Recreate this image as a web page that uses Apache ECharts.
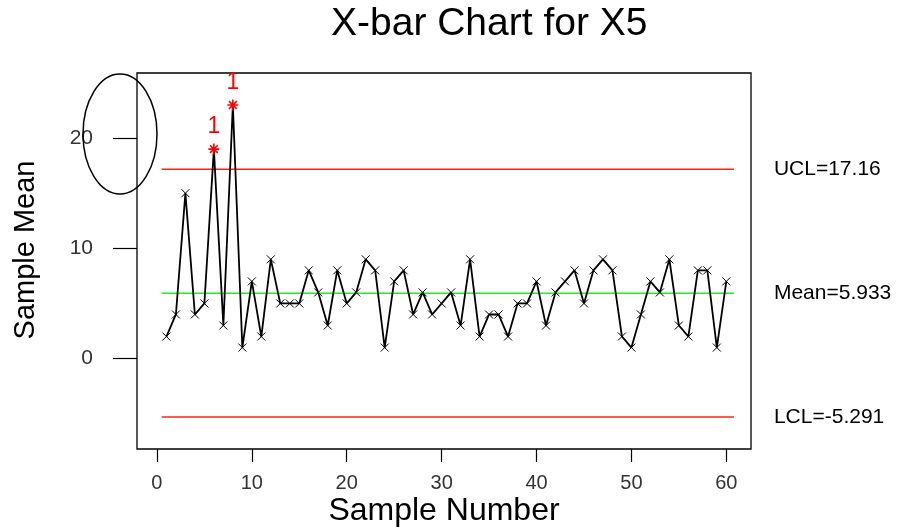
<!DOCTYPE html>
<html>
<head>
<meta charset="utf-8">
<script src="https://cdn.jsdelivr.net/npm/echarts@6/dist/echarts.min.js"></script>
<style>
html,body{margin:0;padding:0;background:#fff;}
#chart{width:915px;height:527px;}
</style>
</head>
<body>
<div id="chart"></div>
<script>
// Data
const sampleNumbers = [1,2,3,4,5,6,7,8,9,10,11,12,13,14,15,16,17,18,19,20,21,22,23,24,25,26,27,28,29,30,31,32,33,34,35,36,37,38,39,40,41,42,43,44,45,46,47,48,49,50,51,52,53,54,55,56,57,58,59,60];
const sampleMeans = [2,4,15,4,5,19,3,23,1,7, 2,9,5,5,5,8,6,3,8,5, 6,9,8,1,7,8,4,6,4,5, 6,3,9,2,4,4,2,5,5,7, 3,6,7,8,5,8,9,8,2,1, 4,7,6,9,3,2,8,8,1,7];
const outOfControl = [6, 8];
const UCL = 17.16;
const CENTER = 5.933;
const LCL = -5.291;
const limitSpan = [0.5, 60.8];
const xTicks = [0,10,20,30,40,50,60];
const yTicks = [0,10,20];
const titleText = 'X-bar Chart for X5';

const chart = echarts.init(document.getElementById('chart'));
const crossPath = 'path://M0,0L10,10M10,0L0,10';
const starPath = 'path://M0,5L10,5M5,0L5,10M1.5,1.5L8.5,8.5M8.5,1.5L1.5,8.5';

const meanData = sampleNumbers.map((n, i) => {
  const flagged = outOfControl.includes(n);
  return {
    value: [n, sampleMeans[i]],
    symbol: flagged ? starPath : crossPath,
    symbolSize: flagged ? 11 : 8,
    itemStyle: flagged ? {color: 'none', borderColor: '#ff0000', borderWidth: 1.6} : {color: 'none', borderColor: '#000', borderWidth: 1},
    label: flagged ? {show: true, position: 'top', formatter: '1', color: '#ff0000', fontSize: 23, fontFamily: 'Liberation Sans', distance: 3} : {show: false}
  };
});

function limitLine(v, color, text) {
  return {
    type: 'line',
    data: [[limitSpan[0], v], [limitSpan[1], v]],
    symbol: 'none',
    silent: true,
    lineStyle: {color: color, width: 1.5},
    endLabel: {show: true, formatter: text, color: '#000', fontSize: 21, fontFamily: 'Liberation Sans', distance: 40},
    z: 1
  };
}

chart.setOption({
  animation: false,
  backgroundColor: '#fff',
  title: {
    text: titleText,
    left: 326, top: 0,
    textStyle: {fontFamily: 'Liberation Sans', fontSize: 39, fontWeight: 'normal', color: '#000'}
  },
  grid: {left: 137, top: 73, right: 164, bottom: 78, outerBoundsMode: 'none', containLabel: false, show: true, borderColor: '#000', borderWidth: 1.3, backgroundColor: 'transparent'},
  xAxis: {
    type: 'value', min: -2.1, max: 62.6,
    name: 'Sample Number', nameLocation: 'middle', nameGap: 46, nameMoveOverlap: false,
    nameTextStyle: {fontFamily: 'Liberation Sans', fontSize: 32, color: '#000'},
    axisLine: {show: false, onZero: false},
    splitLine: {show: false},
    axisTick: {show: true, customValues: xTicks, length: 13, inside: false, lineStyle: {color: '#000', width: 1.2}},
    axisLabel: {customValues: xTicks, fontFamily: 'Liberation Sans', fontSize: 20, color: '#333', margin: 24}
  },
  yAxis: {
    type: 'value', min: -8.2, max: 25.9,
    name: 'Sample Mean', nameLocation: 'middle', nameGap: 97, nameRotate: 90, nameMoveOverlap: false,
    nameTextStyle: {fontFamily: 'Liberation Sans', fontSize: 29, color: '#000', padding: [0, 0, 0, 22]},
    axisLine: {show: false, onZero: false},
    splitLine: {show: false},
    axisTick: {show: true, customValues: yTicks, length: 24, lineStyle: {color: '#000', width: 1.2}},
    axisLabel: {customValues: yTicks, fontFamily: 'Liberation Sans', fontSize: 21, color: '#333', margin: 44}
  },
  series: [
    limitLine(UCL, '#ff2020', 'UCL=17.16'),
    limitLine(CENTER, '#22ee22', 'Mean=5.933'),
    limitLine(LCL, '#ff2020', 'LCL=-5.291'),
    {
      type: 'line',
      data: meanData,
      showAllSymbol: true,
      lineStyle: {color: '#000', width: 1.8},
      z: 3
    }
  ],
  graphic: [{
    type: 'ellipse',
    shape: {cx: 120, cy: 134, rx: 37, ry: 60},
    style: {fill: 'none', stroke: '#000', lineWidth: 1.5},
    z: 10
  }]
});
</script>
</body>
</html>
